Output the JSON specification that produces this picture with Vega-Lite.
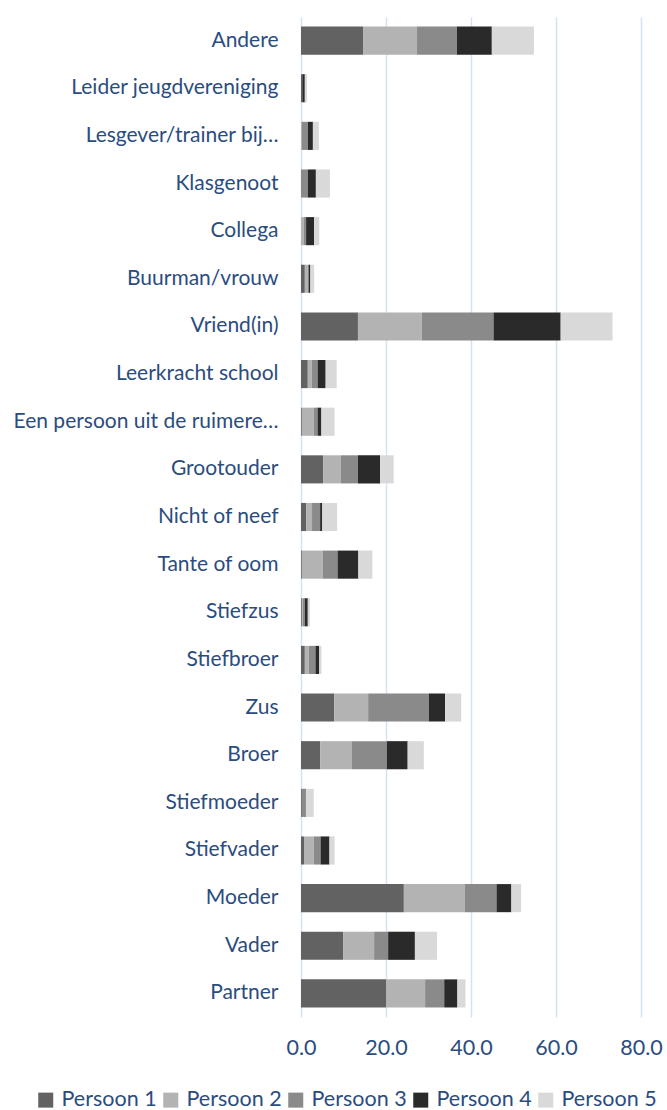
{
  "$schema": "https://vega.github.io/schema/vega-lite/v6.json",
  "width": 340,
  "height": 1000,
  "padding": {"left": 11, "top": 17, "right": 5, "bottom": 0},
  "background": "white",
  "config": {
    "view": {"stroke": null},
    "font": "Lato",
    "axis": {"labelFont": "Lato", "labelColor": "#2b4c7e"},
    "legend": {"labelFont": "Lato", "labelColor": "#2b4c7e"}
  },
  "data": {
    "values": [
      {"c": "Andere", "Persoon 1": 14.6, "Persoon 2": 12.7, "Persoon 3": 9.4, "Persoon 4": 8.2, "Persoon 5": 9.9},
      {"c": "Leider jeugdvereniging", "Persoon 1": 0.3, "Persoon 2": 0, "Persoon 3": 0, "Persoon 4": 0.6, "Persoon 5": 0.5},
      {"c": "Lesgever/trainer bij…", "Persoon 1": 0, "Persoon 2": 0.2, "Persoon 3": 1.4, "Persoon 4": 1.2, "Persoon 5": 1.4},
      {"c": "Klasgenoot", "Persoon 1": 0, "Persoon 2": 0, "Persoon 3": 1.6, "Persoon 4": 1.9, "Persoon 5": 3.3},
      {"c": "Collega", "Persoon 1": 0, "Persoon 2": 0.7, "Persoon 3": 0.5, "Persoon 4": 1.9, "Persoon 5": 1.2},
      {"c": "Buurman/vrouw", "Persoon 1": 0.9, "Persoon 2": 0.7, "Persoon 3": 0.2, "Persoon 4": 0.4, "Persoon 5": 0.9},
      {"c": "Vriend(in)", "Persoon 1": 13.4, "Persoon 2": 15.0, "Persoon 3": 16.9, "Persoon 4": 15.8, "Persoon 5": 12.2},
      {"c": "Leerkracht school", "Persoon 1": 1.6, "Persoon 2": 0.9, "Persoon 3": 1.4, "Persoon 4": 1.9, "Persoon 5": 2.6},
      {"c": "Een persoon uit de ruimere…", "Persoon 1": 0.2, "Persoon 2": 2.8, "Persoon 3": 0.9, "Persoon 4": 0.9, "Persoon 5": 3.1},
      {"c": "Grootouder", "Persoon 1": 5.2, "Persoon 2": 4.2, "Persoon 3": 4.0, "Persoon 4": 5.2, "Persoon 5": 3.2},
      {"c": "Nicht of neef", "Persoon 1": 1.2, "Persoon 2": 1.4, "Persoon 3": 1.9, "Persoon 4": 0.5, "Persoon 5": 3.5},
      {"c": "Tante of oom", "Persoon 1": 0.2, "Persoon 2": 4.9, "Persoon 3": 3.5, "Persoon 4": 4.9, "Persoon 5": 3.3},
      {"c": "Stiefzus", "Persoon 1": 0.2, "Persoon 2": 0.2, "Persoon 3": 0.5, "Persoon 4": 0.7, "Persoon 5": 0.5},
      {"c": "Stiefbroer", "Persoon 1": 0.9, "Persoon 2": 0.9, "Persoon 3": 1.6, "Persoon 4": 0.9, "Persoon 5": 0.5},
      {"c": "Zus", "Persoon 1": 7.8, "Persoon 2": 8.0, "Persoon 3": 14.3, "Persoon 4": 3.8, "Persoon 5": 3.8},
      {"c": "Broer", "Persoon 1": 4.5, "Persoon 2": 7.5, "Persoon 3": 8.2, "Persoon 4": 4.9, "Persoon 5": 3.8},
      {"c": "Stiefmoeder", "Persoon 1": 0.2, "Persoon 2": 0, "Persoon 3": 0.7, "Persoon 4": 0.2, "Persoon 5": 1.9},
      {"c": "Stiefvader", "Persoon 1": 0.7, "Persoon 2": 2.3, "Persoon 3": 1.6, "Persoon 4": 2.1, "Persoon 5": 1.2},
      {"c": "Moeder", "Persoon 1": 24.2, "Persoon 2": 14.3, "Persoon 3": 7.5, "Persoon 4": 3.5, "Persoon 5": 2.3},
      {"c": "Vader", "Persoon 1": 9.9, "Persoon 2": 7.3, "Persoon 3": 3.3, "Persoon 4": 6.3, "Persoon 5": 5.2},
      {"c": "Partner", "Persoon 1": 20.0, "Persoon 2": 9.2, "Persoon 3": 4.5, "Persoon 4": 3.1, "Persoon 5": 1.9}
    ]
  },
  "transform": [
    {"fold": ["Persoon 1", "Persoon 2", "Persoon 3", "Persoon 4", "Persoon 5"], "as": ["p", "v"]}
  ],
  "mark": {"type": "bar"},
  "encoding": {
    "y": {
      "field": "c",
      "type": "nominal",
      "sort": null,
      "title": null,
      "scale": {"paddingInner": 0.41, "paddingOuter": 0.2},
      "axis": {
        "domain": false,
        "ticks": false,
        "grid": false,
        "labelFontSize": 21,
        "labelPadding": 23,
        "labelLimit": 300,
        "minExtent": 290,
        "maxExtent": 290
      }
    },
    "x": {
      "field": "v",
      "type": "quantitative",
      "stack": "zero",
      "title": null,
      "scale": {"domain": [0, 80], "nice": false},
      "axis": {
        "values": [0, 20, 40, 60, 80],
        "format": ".1f",
        "domain": false,
        "ticks": false,
        "grid": true,
        "gridColor": "#d6e2f2",
        "gridWidth": 1.5,
        "labelFontSize": 21.5,
        "labelPadding": 20,
        "labelFlush": false
      }
    },
    "color": {
      "field": "p",
      "type": "nominal",
      "title": null,
      "scale": {
        "domain": ["Persoon 1", "Persoon 2", "Persoon 3", "Persoon 4", "Persoon 5"],
        "range": ["#626262", "#b3b3b3", "#8a8a8a", "#2a2a2a", "#d9d9d9"]
      },
      "legend": {
        "orient": "none",
        "direction": "horizontal",
        "legendX": -266,
        "legendY": 1072,
        "symbolType": "square",
        "symbolSize": 225,
        "symbolStrokeWidth": 0,
        "labelFontSize": 21.5,
        "labelOffset": 5,
        "columnPadding": 3
      }
    },
    "order": {"field": "p", "type": "nominal", "sort": "ascending"}
  }
}
